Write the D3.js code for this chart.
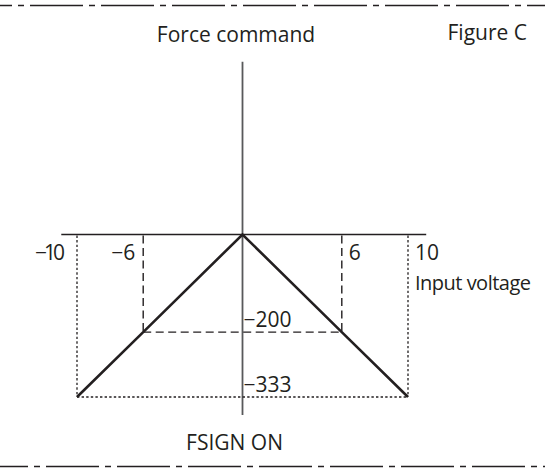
<!DOCTYPE html>
<html>
<head>
<meta charset="utf-8">
<script src="https://cdn.jsdelivr.net/npm/d3@7"></script>
<style>
  html, body { margin: 0; padding: 0; background: #fff; }
  svg { display: block; }
  text { font-family: "Open Sans", "Noto Sans", sans-serif; fill: #231f20; }
</style>
</head>
<body>
<svg id="chart" width="545" height="468"></svg>
<script>
// Input voltage (V) and resulting force command, FSIGN ON
const voltage = [-10, -6, 0, 6, 10];
const force = [-333, -200, 0, -200, -333];

// Marked voltages and their tick labels
const xTicks = [-10, -6, 6, 10];
const xTickLabels = ["\u221210", "\u22126", "6", "10"];
// Marked force levels and their tick labels
const yTicks = [-200, -333];
const yTickLabels = ["\u2212200", "\u2212333"];

// Extents of the drawn axis lines
const xAxisExtent = [-10.95, 11.1];
const yAxisExtent = [354, -370];

const svg = d3.select("#chart");

const x = d3.scaleLinear().domain([-10, 10]).range([77, 408]);
const y = d3.scaleLinear().domain([0, -333]).range([234.5, 397]);

// Page border rules, dash-dot pattern
const border = [5.5, 466.5];
svg.selectAll("line.border").data(border).join("line")
  .attr("class", "border")
  .attr("x1", 0).attr("x2", 545)
  .attr("y1", d => d).attr("y2", d => d)
  .attr("stroke", "#231f20").attr("stroke-width", 1.6)
  .attr("stroke-dasharray", "53,6,6,6")
  .attr("stroke-dashoffset", (d, i) => i === 0 ? 41 : 25);

// Axes
svg.append("line")
  .attr("x1", x(xAxisExtent[0])).attr("x2", x(xAxisExtent[1]))
  .attr("y1", y(0)).attr("y2", y(0))
  .attr("stroke", "#231f20").attr("stroke-width", 1.4);
svg.append("line")
  .attr("x1", x(0)).attr("x2", x(0))
  .attr("y1", y(yAxisExtent[0])).attr("y2", y(yAxisExtent[1]))
  .attr("stroke", "#58595b").attr("stroke-width", 1.8);

// Guide styles: dashed for ±6 V / −200, dotted for ±10 V / −333
const dashed = { dash: "8,4.5", width: 1.4 };
const dotted = { dash: "2.4,2.2", width: 1.3 };

function guide(xv, yv, style) {
  // vertical drops at ±xv and horizontal rule at yv
  svg.selectAll(null).data([-xv, xv]).join("line")
    .attr("x1", d => x(d)).attr("x2", d => x(d))
    .attr("y1", y(0) + 1).attr("y2", y(yv))
    .attr("stroke", "#231f20").attr("stroke-width", style.width)
    .attr("stroke-dasharray", style.dash);
  svg.append("line")
    .attr("x1", x(-xv)).attr("x2", x(xv))
    .attr("y1", y(yv)).attr("y2", y(yv))
    .attr("stroke", "#231f20").attr("stroke-width", style.width)
    .attr("stroke-dasharray", style.dash);
}
guide(voltage[3], force[3], dashed);
guide(voltage[4], force[4], dotted);

// Force command characteristic
const line = d3.line().x((d, i) => x(voltage[i])).y(d => y(d));
svg.append("path")
  .datum(force)
  .attr("d", line)
  .attr("fill", "none")
  .attr("stroke", "#231f20")
  .attr("stroke-width", 2.6)
  .attr("stroke-linejoin", "miter");

// Voltage tick labels
const fs = 21;
svg.selectAll("text.xt").data(xTicks).join("text")
  .attr("class", "xt")
  .attr("x", d => d < 0 ? x(d) - (d === -10 ? 12 : 8) : x(d) + 7)
  .attr("y", y(0) + 25.5)
  .attr("text-anchor", d => d < 0 ? "end" : "start")
  .attr("font-size", fs)
  .text((d, i) => xTickLabels[i])
  .filter(d => d === -10)
  .attr("textLength", 30)
  .attr("lengthAdjust", "spacing");

// Force tick labels
svg.selectAll("text.yt").data(yTicks).join("text")
  .attr("class", "yt")
  .attr("x", x(0) + 1)
  .attr("y", d => y(d) - 5.5)
  .attr("font-size", fs)
  .text((d, i) => yTickLabels[i]);

// Titles
svg.append("text").attr("x", 236).attr("y", 41.5)
  .attr("text-anchor", "middle").attr("font-size", fs).text("Force command");
svg.append("text").attr("x", 527).attr("y", 40)
  .attr("text-anchor", "end").attr("font-size", fs).text("Figure C");
svg.append("text").attr("x", x(10) + 7).attr("y", 290)
  .attr("font-size", 20)
  .attr("textLength", 116).attr("lengthAdjust", "spacing")
  .text("Input voltage");
svg.append("text").attr("x", 234.5).attr("y", 450)
  .attr("text-anchor", "middle").attr("font-size", fs).text("FSIGN ON");
</script>
</body>
</html>
